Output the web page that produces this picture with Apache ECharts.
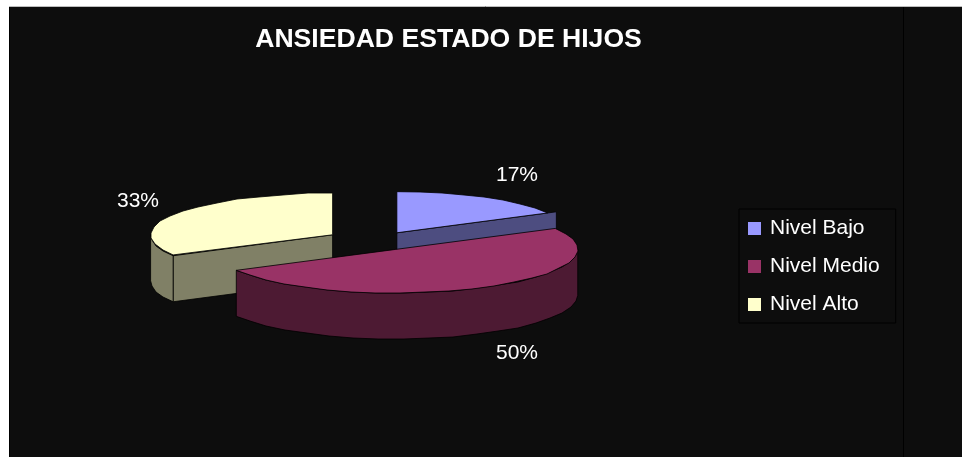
<!DOCTYPE html>
<html>
<head>
<meta charset="utf-8">
<style>html,body{margin:0;padding:0;background:#fff}#chart{width:962px;height:457px}</style>
<script src="https://cdn.jsdelivr.net/npm/echarts@6/dist/echarts.min.js"></script>
</head>
<body>
<div id="chart"></div>
<script>
// Respuestas por nivel de ansiedad, en porcentaje
const categories = ['Nivel Bajo', 'Nivel Medio', 'Nivel Alto'];
const percents = [17, 50, 33];
const chartTitle = 'ANSIEDAD ESTADO DE HIJOS';

// Aspecto de cada porción
const topColors = ['#9999FF', '#993366', '#FFFFCC'];
const wallColors = ['#4D4D80', '#4D1A33', '#808066'];
const explode = [40, 40, 51];
const topScaleX = [0.945, 1, 1];
const topScaleY = [0.945, 1, 0.96];
const labelAnchors = [[517, 175], [517, 353], [138, 201]];
const drawOrder = [2, 0, 1];

// Elipse base del pastel en perspectiva
const PIE = { cx: 376.5, cy: 241, a: 182, b: 43.5, depth: 46, step: 8 };
const FONT = 'Liberation Sans, Arial, sans-serif';
const total = percents.reduce((s, v) => s + v, 0);

function rad(d) { return d * Math.PI / 180; }

function sliceAngles(i) {
  let start = 0;
  for (let k = 0; k < i; k++) start += percents[k] / total * 360;
  return [start, start + percents[i] / total * 360];
}

function rimPoint(c, a, b, t) {
  return [c[0] + a * Math.sin(rad(t)), c[1] - b * Math.cos(rad(t))];
}

// Los puntos se redondean para dar al borde su trazo poligonal
function rimPath(c, a, b, from, to) {
  const pts = [];
  const n = Math.max(1, Math.round((to - from) / PIE.step));
  for (let k = 0; k <= n; k++) {
    const p = rimPoint(c, a, b, from + (to - from) * k / n);
    pts.push(k === 0 || k === n ? p : [Math.round(p[0]), Math.round(p[1])]);
  }
  return pts;
}

function down(pts) { return pts.map(p => [p[0], p[1] + PIE.depth]).reverse(); }

function renderSlice(i, api) {
  const [start, end] = sliceAngles(i);
  const mid = (start + end) / 2;
  const c = rimPoint([PIE.cx, PIE.cy], explode[i], explode[i] * PIE.b / PIE.a, mid);
  const edge = { stroke: '#000', lineWidth: 0.8, lineJoin: 'round' };
  const children = [];
  const face = t => {
    const seg = [c, rimPoint(c, PIE.a, PIE.b, t)];
    children.push({ type: 'polygon', shape: { points: seg.concat(down(seg)) },
      style: Object.assign({ fill: wallColors[i] }, edge) });
  };
  if (end < 180) face(end);
  if (start > 180) face(start);
  const wallFrom = Math.max(start, 90), wallTo = Math.min(end, 270);
  if (wallTo > wallFrom) {
    const rim = rimPath(c, PIE.a, PIE.b, wallFrom, wallTo);
    children.push({ type: 'polygon', shape: { points: rim.concat(down(rim)) },
      style: Object.assign({ fill: wallColors[i] }, edge) });
  }
  const top = [c].concat(rimPath(c, PIE.a * topScaleX[i], PIE.b * topScaleY[i], start, end));
  children.push({ type: 'polygon', shape: { points: top },
    style: Object.assign({ fill: topColors[i] }, edge) });
  children.push({ type: 'text', style: {
    text: api.value(0) + '%', x: labelAnchors[i][0], y: labelAnchors[i][1],
    fill: '#fff', font: '21px ' + FONT, textAlign: 'center', textVerticalAlign: 'middle'
  } });
  return { type: 'group', children };
}

const chart = echarts.init(document.getElementById('chart'), null, { renderer: 'canvas' });
chart.setOption({
  animation: false,
  backgroundColor: '#fff',
  title: {
    text: chartTitle, left: 443.5, top: 21, textAlign: 'center',
    textStyle: { color: '#fff', fontFamily: FONT, fontWeight: 'bold', fontSize: 26.6 }
  },
  legend: {
    orient: 'vertical', left: 739, top: 209, icon: 'rect',
    data: categories, itemWidth: 13, itemHeight: 13, itemGap: 17,
    padding: [9, 16, 8, 9], borderColor: '#000', borderWidth: 1,
    selectedMode: false,
    textStyle: { color: '#fff', fontFamily: FONT, fontSize: 21, padding: [0, 0, 0, 4] }
  },
  graphic: [
    { type: 'rect', z: -10, shape: { x: 9, y: 6, width: 953, height: 451 }, style: { fill: '#0D0D0D' } },
    { type: 'line', z: -9, shape: { x1: 9, y1: 6.5, x2: 962, y2: 6.5 }, style: { stroke: '#BDBDBD', lineWidth: 1 } },
    { type: 'line', z: -9, shape: { x1: 9.5, y1: 7, x2: 9.5, y2: 457 }, style: { stroke: '#000', lineWidth: 1 } },
    { type: 'line', z: -9, shape: { x1: 903.5, y1: 7, x2: 903.5, y2: 457 }, style: { stroke: '#000', lineWidth: 1 } }
  ],
  series: drawOrder.map((i, order) => ({
    type: 'custom',
    name: categories[i],
    coordinateSystem: 'none',
    z: 2 + order,
    silent: true,
    itemStyle: { color: topColors[i] },
    data: [{ name: categories[i], value: percents[i] }],
    renderItem: (params, api) => renderSlice(i, api)
  }))
});
</script>
</body>
</html>
